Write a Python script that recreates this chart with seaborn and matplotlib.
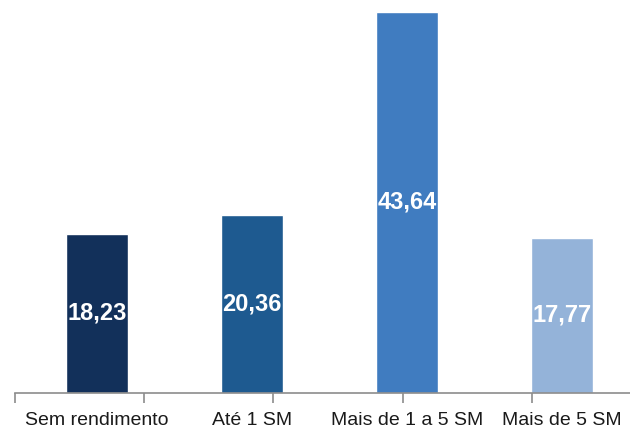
import matplotlib.pyplot as plt
import pandas as pd
import seaborn as sns

# data
categories = ["Sem rendimento", "Até 1 SM", "Mais de 1 a 5 SM", "Mais de 5 SM"]
values = [18.23, 20.36, 43.64, 17.77]
labels = ["18,23", "20,36", "43,64", "17,77"]
colors = ["#12305A", "#1E5A90", "#407CC0", "#94B3D9"]

df = pd.DataFrame({"cat": categories, "val": values})

sns.set_style("white")
plt.rcParams["font.family"] = ["Liberation Sans", "DejaVu Sans"]

fig = plt.figure(figsize=(6.3, 4.33), dpi=100)
ax = fig.add_axes([0, 0.0924, 1, 0.9076])

sns.barplot(data=df, x="cat", y="val", hue="cat", palette=colors,
            width=0.4, saturation=1, legend=False, ax=ax)

# value labels in the middle of each bar
for i, (v, lab) in enumerate(zip(values, labels)):
    ax.text(i, v / 2, lab, ha="center", va="center", color="white",
            fontsize=17, fontweight="bold")

ax.set_ylim(0, 45)
ax.set_xlim(-0.626, 3.44)
ax.set_xlabel("")
ax.set_ylabel("")
ax.set_yticks([])

# category labels centred on bars, separator ticks between them
ax.set_xticks(range(len(categories)))
ax.set_xticklabels(categories, fontsize=14, color="#1a1a1a")
ax.tick_params(axis="x", which="both", bottom=True)
ax.tick_params(axis="x", which="major", length=0, pad=14)
ax.set_xticks([-0.529, 0.303, 1.135, 1.974, 2.81], minor=True)
ax.tick_params(axis="x", which="minor", length=7, width=1.2,
               color="#8c8c8c", direction="out")

for side in ["top", "right", "left"]:
    ax.spines[side].set_visible(False)
ax.spines["bottom"].set_color("#8c8c8c")
ax.spines["bottom"].set_linewidth(1.2)
ax.spines["bottom"].set_bounds(-0.529, 3.44)

fig.savefig("out.png", dpi=100)
